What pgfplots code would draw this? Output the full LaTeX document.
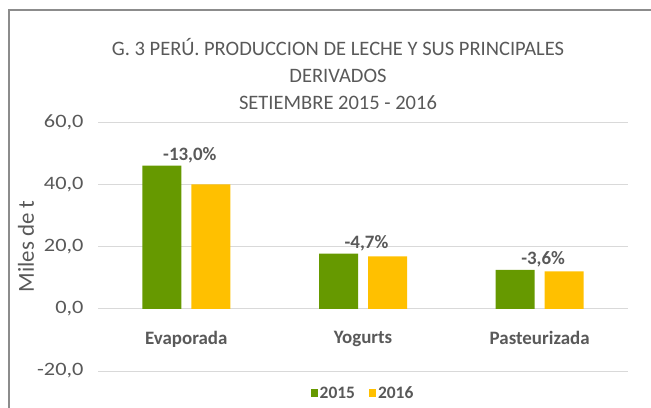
\documentclass[border=0pt]{standalone}
\usepackage{pgfplots}
\pgfplotsset{compat=1.18}
\usepackage{fontspec}
\setmainfont{Carlito}
\definecolor{cgreen}{HTML}{669900}
\definecolor{cyellow}{HTML}{FFC000}
\definecolor{ctext}{HTML}{595959}
\definecolor{cgrid}{HTML}{D9D9D9}
\definecolor{cframe}{HTML}{8C8C8C}
\begin{document}
\begin{tikzpicture}[x=1bp,y=1bp]
\useasboundingbox (0,0) rectangle (651,407);
\draw[cframe, line width=1.2bp] (9,-2) -- (9,397) -- (660,397);
\node[text=ctext, align=center, font=\fontsize{20.6}{27}\selectfont] at (338,333)
  {G. 3 PERÚ. PRODUCCION DE LECHE Y SUS PRINCIPALES\\DERIVADOS\\SETIEMBRE 2015 - 2016};
\begin{axis}[
  at={(98bp,36bp)}, anchor=south west,
  scale only axis, width=530bp, height=249bp,
  xmin=-0.5, xmax=2.5, ymin=-20, ymax=60,
  ytick={-20,0,20,40,60},
  xtick={0,1,2}, xticklabels={Evaporada,Yogurts,Pasteurizada},
  axis x line*=middle, axis y line*=left,
  x axis line style={cgrid, line width=1bp, -},
  y axis line style={draw=none},
  major tick length=0pt,
  ymajorgrids, grid style={cgrid, line width=1bp},
  yticklabel={\scalebox{1.18}[1]{\pgfmathprintnumber[fixed,fixed zerofill,precision=1,use comma]{\tick}}},
  yticklabel style={text=ctext, font=\fontsize{19}{22}\selectfont, /pgf/number format/assume math mode=true, xshift=-11bp},
  xticklabel style={text=ctext, font=\bfseries\fontsize{19}{22}\selectfont, yshift=-19bp},
  ylabel={\fontsize{23}{26}\selectfont Miles de t},
  ylabel style={text=ctext, at={(axis description cs:-0.136,0.5)}, anchor=center},
  ybar, bar width=39bp,
  legend style={draw=none, at={(0.5,-0.045)}, anchor=north, legend columns=2,
    font=\bfseries\fontsize{17.5}{19}\selectfont, text=ctext,
    /tikz/every even column/.append style={column sep=12bp}},
  legend image code/.code={\fill[#1] (0bp,-4bp) rectangle (7bp,4bp);},
  clip=false,
]
\addplot[fill=cgreen, draw=none, bar shift=-24.5bp,
  nodes near coords, point meta=explicit symbolic,
  every node near coord/.append style={xshift=28bp, yshift=-1bp, text=ctext, font=\bfseries\fontsize{19}{22}\selectfont}]
  coordinates {(0,46.0)[-13,0\%] (1,17.7)[-4,7\%] (2,12.5)[-3,6\%]};
\addplot[fill=cyellow, draw=none, bar shift=24.5bp]
  coordinates {(0,40.0) (1,16.85) (2,12.05)};
\legend{2015,2016}
\end{axis}
\end{tikzpicture}
\end{document}
